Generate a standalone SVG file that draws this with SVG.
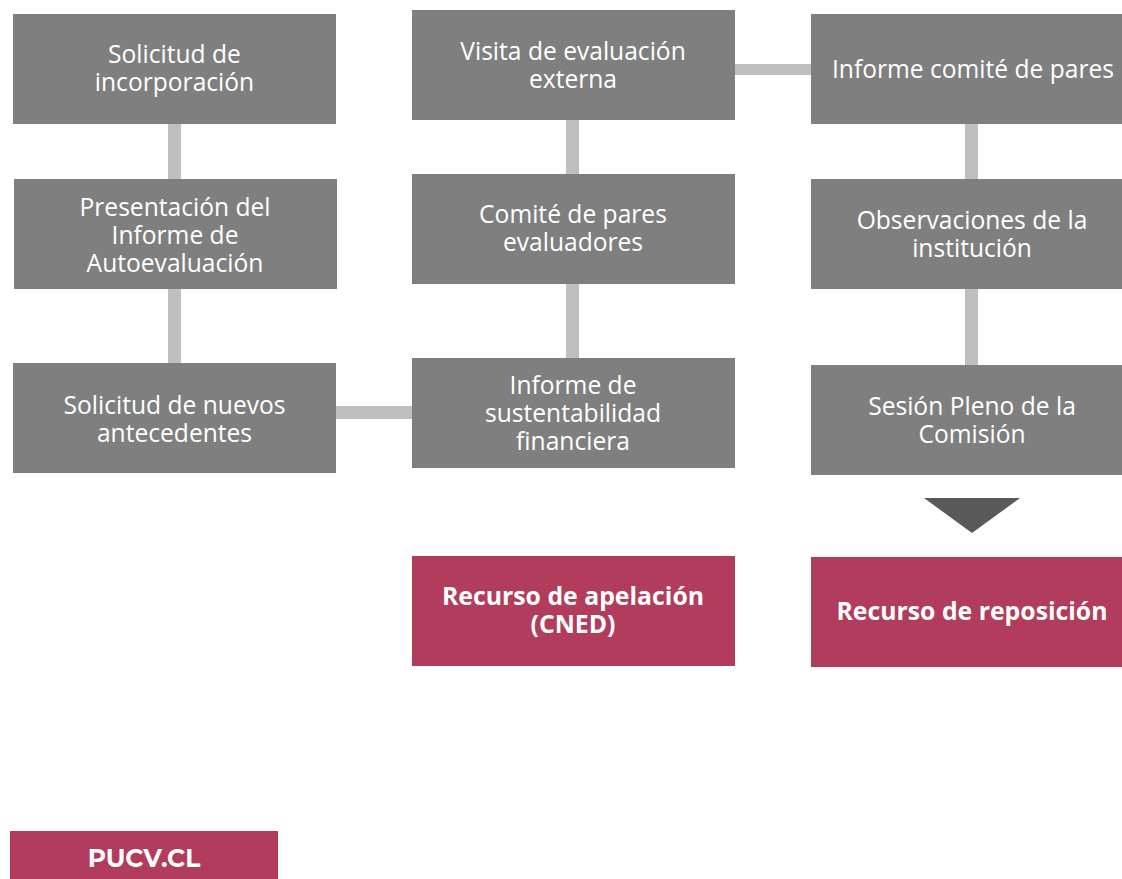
<svg xmlns="http://www.w3.org/2000/svg" width="1122" height="879" viewBox="0 0 1122 879">
<style>
.box{fill:#7f7f7f}
.red{fill:#b23c5c}
.t{font-family:"Open Sans","Noto Sans",sans-serif;font-size:24.6px;fill:#ffffff;text-anchor:middle}
.b{font-family:"Open Sans","Noto Sans",sans-serif;font-size:24.8px;font-weight:bold;fill:#ffffff;text-anchor:middle}
.c{fill:#bfbfbf}
</style>
<rect width="1122" height="879" fill="#ffffff"/>
<g id="connectors">
<rect class="c" x="168" y="124" width="13" height="55"/>
<rect class="c" x="168" y="289" width="13" height="74"/>
<rect class="c" x="566" y="120" width="13" height="54"/>
<rect class="c" x="566" y="284" width="13" height="74"/>
<rect class="c" x="965" y="124" width="13" height="55"/>
<rect class="c" x="965" y="289" width="13" height="76"/>
<rect class="c" x="735" y="64" width="76" height="11"/>
<rect class="c" x="336" y="406" width="76" height="13"/>
<polygon points="924,498 1020,498 972,533" fill="#595959"/>
</g>
<g id="n1"><rect class="box" x="13" y="14" width="323" height="110"/>
<text class="t"><tspan x="174.5" y="63">Solicitud de</tspan><tspan x="174.5" y="91">incorporación</tspan></text></g>
<g id="n2"><rect class="box" x="14" y="179" width="323" height="110"/>
<text class="t"><tspan x="175" y="216">Presentación del</tspan><tspan x="175" y="244">Informe de</tspan><tspan x="175" y="272">Autoevaluación</tspan></text></g>
<g id="n3"><rect class="box" x="13" y="363" width="323" height="110"/>
<text class="t"><tspan x="174.5" y="414">Solicitud de nuevos</tspan><tspan x="174.5" y="442">antecedentes</tspan></text></g>
<g id="n4"><rect class="box" x="412" y="10" width="323" height="110"/>
<text class="t"><tspan x="573" y="60">Visita de evaluación</tspan><tspan x="573" y="88">externa</tspan></text></g>
<g id="n5"><rect class="box" x="412" y="174" width="323" height="110"/>
<text class="t"><tspan x="573" y="223">Comité de pares</tspan><tspan x="573" y="251">evaluadores</tspan></text></g>
<g id="n6"><rect class="box" x="412" y="358" width="323" height="110"/>
<text class="t"><tspan x="573" y="394">Informe de</tspan><tspan x="573" y="422">sustentabilidad</tspan><tspan x="573" y="450">financiera</tspan></text></g>
<g id="n7"><rect class="box" x="811" y="14" width="311" height="110"/>
<text class="t" x="973" y="78">Informe comité de pares</text></g>
<g id="n8"><rect class="box" x="811" y="179" width="311" height="110"/>
<text class="t"><tspan x="972" y="229">Observaciones de la</tspan><tspan x="972" y="257">institución</tspan></text></g>
<g id="n9"><rect class="box" x="811" y="365" width="311" height="110"/>
<text class="t"><tspan x="972" y="415">Sesión Pleno de la</tspan><tspan x="972" y="443">Comisión</tspan></text></g>
<g id="n10"><rect class="red" x="412" y="556" width="323" height="110"/>
<text class="b"><tspan x="573" y="605">Recurso de apelación</tspan><tspan x="573" y="633">(CNED)</tspan></text></g>
<g id="n11"><rect class="red" x="811" y="557" width="311" height="110"/>
<text class="b" x="972" y="620">Recurso de reposición</text></g>
<g id="footer"><rect class="red" x="10" y="831" width="268" height="48"/>
<text x="144" y="867" font-family="Montserrat,'Open Sans','Noto Sans',sans-serif" font-size="25" font-weight="bold" fill="#ffffff" text-anchor="middle">PUCV.CL</text></g>
</svg>
